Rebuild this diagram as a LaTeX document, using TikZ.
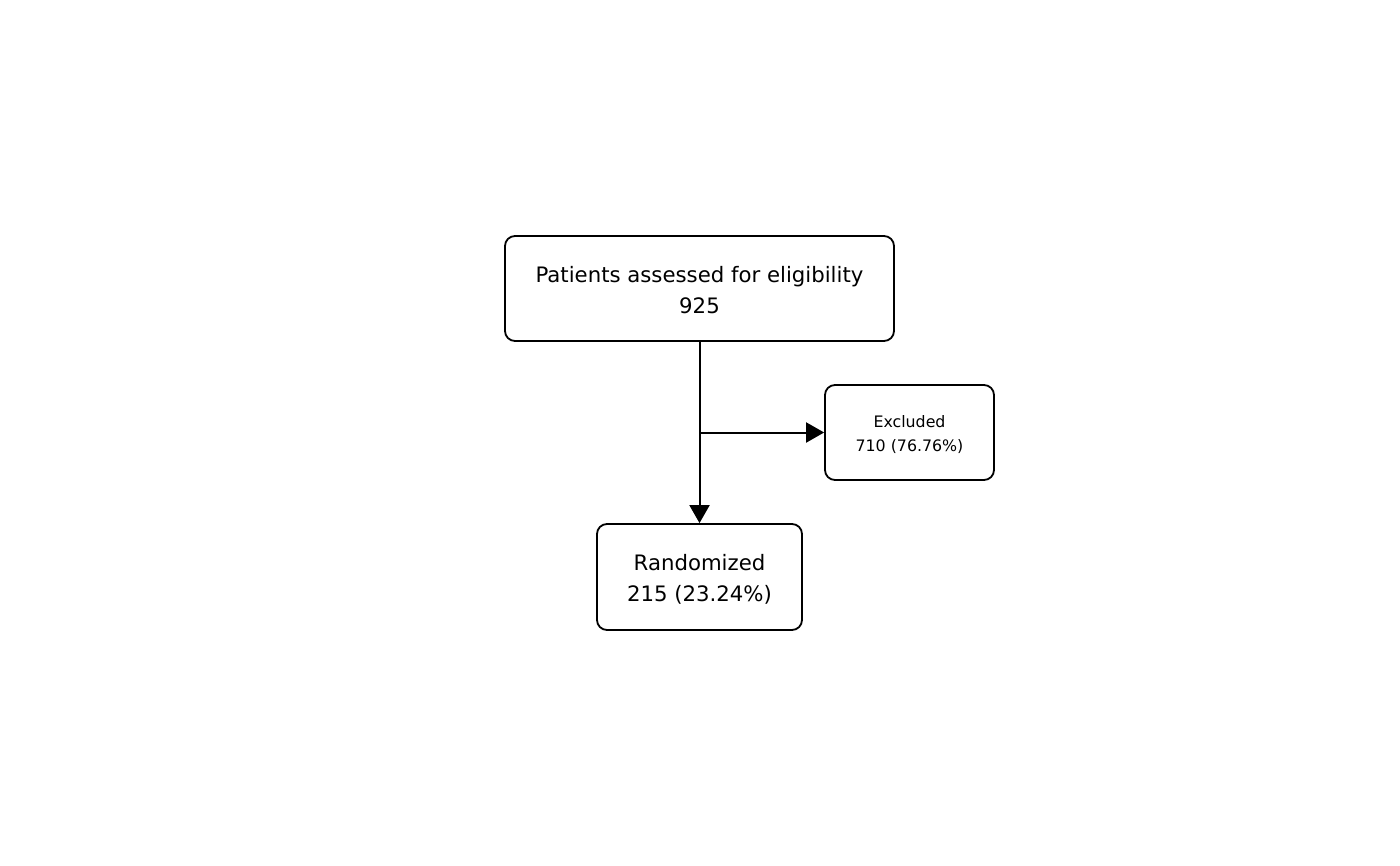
\documentclass[tikz,border=0pt]{standalone}
\usepackage{fontspec}
\setmainfont{DejaVu Sans}
\usetikzlibrary{arrows.meta}
\begin{document}
\begin{tikzpicture}[x=1pt,y=-1pt,
  box/.style={draw=black,line width=1.8pt,rounded corners=10pt,inner sep=0pt,align=center},
  bigtxt/.style={font=\fontsize{21.25}{31}\selectfont},
  smalltxt/.style={font=\fontsize{15.8}{24}\selectfont},
  conn/.style={draw=black,line width=2pt,-{Triangle[length=18pt,width=20pt]}}]
\useasboundingbox (0,0) rectangle (1400,866);
\node[box,bigtxt,minimum width=389pt,minimum height=105pt] (top) at (699.5,288.5) {\rule{0pt}{19.5pt}Patients assessed for eligibility\\925};
\node[box,smalltxt,minimum width=169pt,minimum height=95pt] (excl) at (909.5,432.5) {\rule{0pt}{16pt}Excluded\\710 (76.76\%)};
\node[box,bigtxt,minimum width=205pt,minimum height=106pt] (rand) at (699.5,577) {\rule{0pt}{20.5pt}Randomized\\215 (23.24\%)};
\draw[conn] (top.south) -- (rand.north);
\coordinate (mid) at (top.south |- excl.west);
\draw[conn] (mid) -- (excl.west);
\end{tikzpicture}
\end{document}
